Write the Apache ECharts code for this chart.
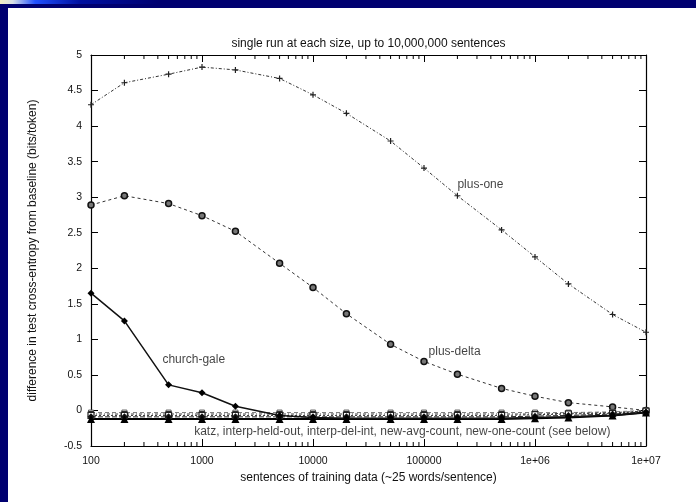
<!DOCTYPE html>
<html>
<head>
<meta charset="utf-8">
<script src="https://cdn.jsdelivr.net/npm/echarts@6/dist/echarts.min.js"></script>
<style>
  html, body { margin: 0; padding: 0; background: #fff; }
  #chart { width: 696px; height: 502px; }
</style>
</head>
<body>
<div id="chart"></div>
<script>
// Training-set sizes (sentences) and cross-entropy differences (bits/token)
const sizes = [100, 200, 500, 1000, 2000, 5000, 10000, 20000, 50000, 100000, 200000, 500000, 1000000, 2000000, 5000000, 10000000];
const plusOne = [4.30, 4.61, 4.73, 4.83, 4.79, 4.67, 4.44, 4.18, 3.79, 3.41, 3.02, 2.54, 2.16, 1.78, 1.35, 1.10];
const plusDelta = [2.89, 3.02, 2.91, 2.74, 2.52, 2.07, 1.73, 1.36, 0.93, 0.69, 0.51, 0.31, 0.20, 0.11, 0.05, 0.00];
const churchGale = [1.65, 1.26, 0.36, 0.25, 0.06, -0.07, -0.10, -0.11, -0.11, -0.11, -0.11, -0.11, -0.10, -0.09, -0.07, -0.03];
const katz = [-0.12, -0.12, -0.12, -0.12, -0.12, -0.12, -0.12, -0.12, -0.12, -0.12, -0.12, -0.12, -0.11, -0.10, -0.07, -0.03];
const interpHeldOut = [-0.09, -0.09, -0.09, -0.09, -0.09, -0.09, -0.09, -0.09, -0.09, -0.09, -0.09, -0.09, -0.08, -0.07, -0.05, -0.02];
const interpDelInt = [-0.07, -0.07, -0.07, -0.07, -0.07, -0.07, -0.07, -0.07, -0.07, -0.07, -0.07, -0.07, -0.06, -0.05, -0.04, -0.01];
const newAvgCount = [-0.05, -0.05, -0.05, -0.05, -0.05, -0.05, -0.05, -0.05, -0.05, -0.05, -0.05, -0.05, -0.05, -0.04, -0.03, -0.01];
const newOneCount = [-0.03, -0.03, -0.03, -0.03, -0.03, -0.03, -0.03, -0.03, -0.03, -0.03, -0.03, -0.03, -0.03, -0.03, -0.02, 0.00];

// Axis tick labels, one per decade
const xTickLabels = ['100', '1000', '10000', '100000', '1e+06', '1e+07'];
// Minor log ticks (2..9 within each decade)
const minorTicks = [];
for (let e = 2; e < 7; e++) for (let m = 2; m <= 9; m++) minorTicks.push(m * Math.pow(10, e));

// Curve annotations in data coordinates
const noteText = ['plus-one', 'plus-delta', 'church-gale', 'katz, interp-held-out, interp-del-int, new-avg-count, new-one-count (see below)'];
const noteX = [200000, 110000, 440, 850];
const noteY = [3.17, 0.83, 0.72, -0.30];

const FONT = '"Liberation Sans", Arial, sans-serif';
const pts = ys => sizes.map((x, i) => [x, ys[i]]);
const plusPath = 'path://M4,0H6V4H10V6H6V10H4V6H0V4H4Z';

const chart = echarts.init(document.getElementById('chart'), null, { renderer: 'canvas' });

const axisCommon = {
  axisLine: { show: true, onZero: false, lineStyle: { color: '#000', width: 1.2 } },
  axisTick: { show: true, inside: true, length: 7, lineStyle: { color: '#000', width: 1 } },
  splitLine: { show: false }
};

function line(name, ys, opts) {
  return Object.assign({
    name, type: 'line', data: pts(ys), xAxisIndex: 0, yAxisIndex: 0,
    showSymbol: true, animation: false, z: 3
  }, opts);
}

chart.setOption({
  backgroundColor: '#fff',
  animation: false,
  textStyle: { fontFamily: FONT },
  graphic: [
    { type: 'rect', shape: { x: 0, y: 0, width: 696, height: 8 }, style: { fill: '#000070' }, z: 100 },
    { type: 'rect', shape: { x: 0, y: 0, width: 8, height: 502 }, style: { fill: '#000070' }, z: 100 },
    { type: 'rect', shape: { x: 0, y: 0, width: 160, height: 4 }, z: 101,
      style: { fill: new echarts.graphic.LinearGradient(0, 0, 1, 0, [
        { offset: 0, color: '#f2eec4' }, { offset: 0.08, color: '#d8e0e8' },
        { offset: 0.22, color: '#2050ff' }, { offset: 0.5, color: '#0010a0' }, { offset: 1, color: '#000070' }
      ]) } }
  ],
  grid: { left: 91, right: 50, top: 55, bottom: 56, containLabel: false },
  xAxis: [
    Object.assign({}, axisCommon, {
      type: 'log', logBase: 10, min: 100, max: 10000000, position: 'bottom',
      name: 'sentences of training data (~25 words/sentence)',
      nameLocation: 'middle', nameGap: 23,
      nameTextStyle: { fontSize: 12, color: '#111', fontFamily: FONT },
      axisLabel: { fontSize: 10.5, color: '#111', margin: 10, fontFamily: FONT,
        formatter: v => xTickLabels[Math.round(Math.log10(v)) - 2] },
      minorTick: { show: false }
    }),
    Object.assign({}, axisCommon, {
      type: 'log', logBase: 10, min: 100, max: 10000000, position: 'top',
      name: 'single run at each size, up to 10,000,000 sentences',
      nameLocation: 'middle', nameGap: 5,
      nameTextStyle: { fontSize: 12, color: '#111', fontFamily: FONT },
      axisLabel: { show: false }
    })
  ],
  yAxis: [
    Object.assign({}, axisCommon, {
      type: 'value', min: -0.5, max: 5, interval: 0.5, position: 'left',
      name: 'difference in test cross-entropy from baseline (bits/token)',
      nameLocation: 'middle', nameGap: 52, nameRotate: 90,
      nameTextStyle: { fontSize: 12, color: '#111', fontFamily: FONT },
      axisLabel: { fontSize: 10.5, color: '#111', margin: 9, fontFamily: FONT }
    }),
    Object.assign({}, axisCommon, {
      type: 'value', min: -0.5, max: 5, interval: 0.5, position: 'right',
      axisLabel: { show: false }
    })
  ],
  series: [
    // minor ticks on the log axis, top and bottom edges
    {
      type: 'custom', xAxisIndex: 0, yAxisIndex: 0, silent: true, z: 2, clip: false,
      data: minorTicks.map(v => [v]),
      renderItem: (params, api) => {
        const v = api.value(0);
        const b = api.coord([v, -0.5]);
        const t = api.coord([v, 5]);
        const st = { stroke: '#000', lineWidth: 1 };
        return { type: 'group', children: [
          { type: 'line', shape: { x1: b[0], y1: b[1], x2: b[0], y2: b[1] - 4 }, style: st },
          { type: 'line', shape: { x1: t[0], y1: t[1], x2: t[0], y2: t[1] + 4 }, style: st }
        ] };
      }
    },
    line('plus-one', plusOne, {
      symbol: plusPath, symbolSize: 6,
      lineStyle: { color: '#333', width: 1, type: [3, 2, 1, 2] },
      itemStyle: { color: '#222' }
    }),
    line('plus-delta', plusDelta, {
      symbol: 'circle', symbolSize: 6,
      lineStyle: { color: '#333', width: 1, type: [3, 3] },
      itemStyle: { color: '#777', borderColor: '#111', borderWidth: 1.5 }
    }),
    line('new-one-count', newOneCount, {
      symbol: 'rect', symbolSize: 5,
      lineStyle: { color: '#777', width: 1, type: [4, 3] },
      itemStyle: { color: '#fff', borderColor: '#555', borderWidth: 1 }
    }),
    line('new-avg-count', newAvgCount, {
      symbol: 'rect', symbolSize: 5,
      lineStyle: { color: '#444', width: 1, type: [3, 2, 1, 2] },
      itemStyle: { color: '#fff', borderColor: '#333', borderWidth: 1 }
    }),
    line('interp-del-int', interpDelInt, {
      symbol: 'rect', symbolSize: 6,
      lineStyle: { color: '#333', width: 1, type: [2, 2] },
      itemStyle: { color: '#fff', borderColor: '#222', borderWidth: 1.2 }
    }),
    line('interp-held-out', interpHeldOut, {
      symbol: 'diamond', symbolSize: 7,
      lineStyle: { color: '#222', width: 1, type: [5, 2] },
      itemStyle: { color: '#111' }
    }),
    line('katz', katz, {
      symbol: 'triangle', symbolSize: 8,
      lineStyle: { color: '#000', width: 2 },
      itemStyle: { color: '#000' }
    }),
    line('church-gale', churchGale, {
      symbol: 'diamond', symbolSize: 7,
      lineStyle: { color: '#111', width: 1.5 },
      itemStyle: { color: '#000' }
    }),
    // curve annotations
    {
      type: 'scatter', xAxisIndex: 0, yAxisIndex: 0, symbolSize: 0, silent: true, z: 5,
      data: noteText.map((t, i) => ({ name: t, value: [noteX[i], noteY[i]] })),
      label: {
        show: true, position: 'inside', align: 'left', verticalAlign: 'middle',
        fontSize: 12, color: '#111', fontFamily: FONT,
        formatter: p => p.name
      }
    }
  ]
});
</script>
</body>
</html>
